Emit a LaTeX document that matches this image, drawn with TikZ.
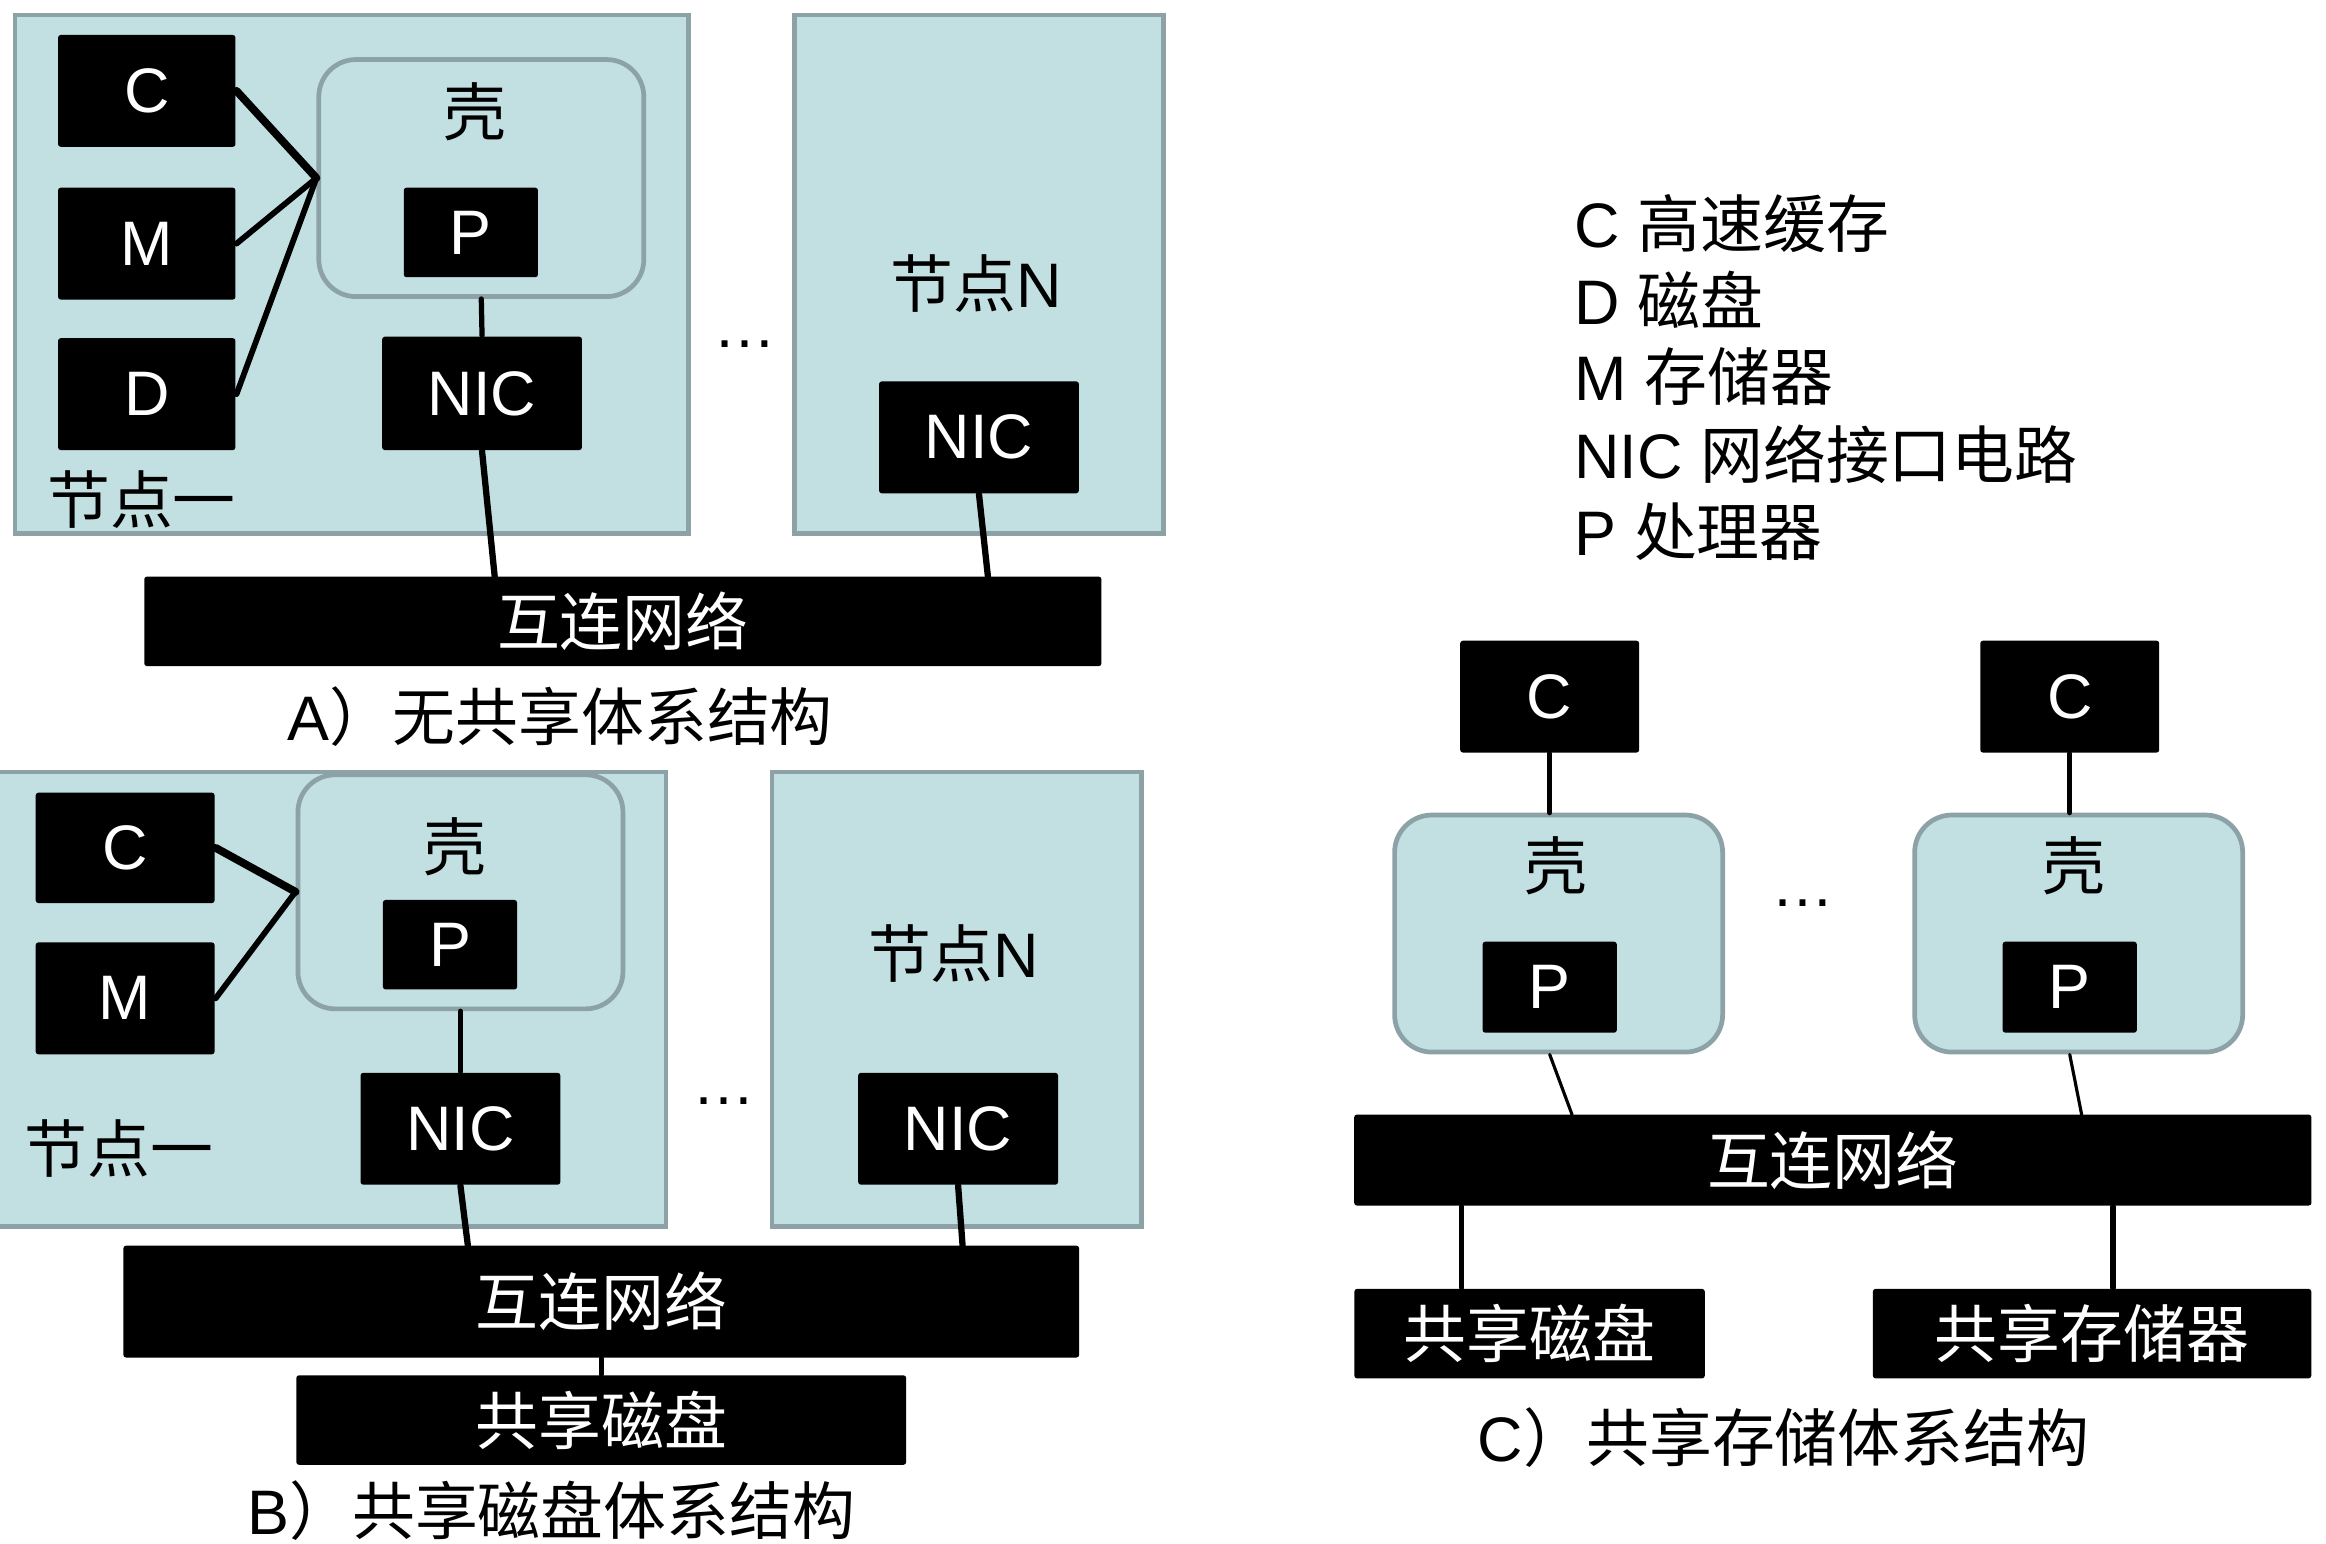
\documentclass[tikz,border=0pt]{standalone}
\usepackage{fontspec}
\setmainfont{Liberation Sans}
\newfontfamily\cjk{Noto Sans CJK SC}
\definecolor{nodefill}{RGB}{194,223,226}
\definecolor{nodeline}{RGB}{140,162,166}
\tikzset{
  nodebox/.style={draw=nodeline, fill=nodefill, line width=0.9pt},
  shell/.style={draw=nodeline, fill=nodefill, line width=0.9pt, rounded corners=0.25cm,
    minimum width=2.18cm, minimum height=1.59cm, inner sep=0pt},
  blk/.style 2 args={fill=black, text=white, rounded corners=0.5pt, inner sep=0pt,
    minimum width=#1cm, minimum height=#2cm},
  txt/.style={inner sep=0pt},
  link/.style={line width=#1, line cap=round},
  link/.default=1pt
}
\begin{document}
\begin{tikzpicture}[x=0.01cm, y=-0.01cm, font=\fontsize{12}{14.7}\selectfont]
  \useasboundingbox (0,0) rectangle (1561,1036);

  % A) shared nothing
  \draw[nodebox] (10,10) rectangle (462,358);
  \draw[nodebox] (533,10) rectangle (781,358);
  \node[blk={1.19}{0.75}] (cA) at (98.5,61) {C};
  \node[blk={1.19}{0.75}] (mA) at (98.5,163.5) {M};
  \node[blk={1.19}{0.75}] (dA) at (98.5,264.5) {D};
  \node[shell] (shA) at (323,119.5) {};
  \node[txt] (shAt) at (319,75) {\cjk 壳};
  \node[blk={0.9}{0.6}] (pA) at (316,156) {P};
  \node[blk={1.34}{0.76}] (nicA) at (323.5,264) {NIC};
  \node[txt] (oneA) at (95,335) {\cjk 节点一};
  \node[txt] (nA) at (655,190) {{\cjk 节点}N};
  \node[blk={1.34}{0.75}] (nicAN) at (657,293.5) {NIC};
  \node[txt] (dotsA) at (500,231) {\ldots};
  \node[blk={6.42}{0.6}] (netA) at (418,417) {\cjk 互连网络};
  \node[txt] (capA) at (376,481) {A{\cjk ）无共享体系结构}};
  \coordinate (jA1) at (332,387);
  \coordinate (jAN) at (663,387);

  \draw[link=1.5pt] (cA.east) -- (shA.west);
  \draw[link=1.1pt] (mA.east) -- (shA.west);
  \draw[link=1.1pt] (dA.east) -- (shA.west);
  \draw[link] (shA.south) -- (nicA.north);
  \draw[link=1.2pt] (nicA.south) -- (jA1);
  \draw[link=1.2pt] (nicAN.south) -- (jAN);

  % B) shared disk
  \draw[nodebox] (-5,518) rectangle (447,823);
  \draw[nodebox] (518,518) rectangle (766,823);
  \node[blk={1.2}{0.74}] (cB) at (84,569) {C};
  \node[blk={1.2}{0.75}] (mB) at (84,670) {M};
  \node[shell, minimum height=1.57cm] (shB) at (309,598.5) {};
  \node[txt] (shBt) at (305,568) {\cjk 壳};
  \node[blk={0.9}{0.6}] (pB) at (302,634) {P};
  \node[blk={1.34}{0.75}] (nicB) at (309,757.5) {NIC};
  \node[txt] (oneB) at (80,771) {\cjk 节点一};
  \node[txt] (nB) at (640,640) {{\cjk 节点}N};
  \node[blk={1.34}{0.75}] (nicBN) at (643,757.5) {NIC};
  \node[txt] (dotsB) at (486,739) {\ldots};
  \node[blk={6.41}{0.75}] (netB) at (403.5,873.5) {\cjk 互连网络};
  \node[blk={4.09}{0.6}] (diskB) at (403.5,953) {\cjk 共享磁盘};
  \node[txt] (capB) at (370,1014) {B{\cjk ）共享磁盘体系结构}};
  \coordinate (jB1) at (314,836);
  \coordinate (jBN) at (646,836);

  \draw[link=1.5pt] (cB.east) -- (shB.west);
  \draw[link=1.1pt] (mB.east) -- (shB.west);
  \draw[link] (shB.south) -- (nicB.north);
  \draw[link=1.2pt] (nicB.south) -- (jB1);
  \draw[link=1.2pt] (nicBN.south) -- (jBN);
  \draw[link] (netB.south) -- (diskB.north);

  % legend
  \node[txt, anchor=base west] (legC) at (1056,166) {C {\cjk 高速缓存}};
  \node[txt, anchor=base west] (legD) at (1056,218) {D {\cjk 磁盘}};
  \node[txt, anchor=base west] (legM) at (1056,269) {M {\cjk 存储器}};
  \node[txt, anchor=base west] (legNIC) at (1056,321) {NIC {\cjk 网络接口电路}};
  \node[txt, anchor=base west] (legP) at (1056,373) {P {\cjk 处理器}};

  % C) shared memory
  \node[blk={1.2}{0.75}] (cC1) at (1040,467.5) {C};
  \node[blk={1.2}{0.75}] (cC2) at (1389,467.5) {C};
  \node[shell, minimum width=2.2cm] (shC1) at (1046,626.5) {};
  \node[shell, minimum width=2.2cm] (shC2) at (1395,626.5) {};
  \node[txt] (shC1t) at (1044,581) {\cjk 壳};
  \node[txt] (shC2t) at (1392,581) {\cjk 壳};
  \node[blk={0.9}{0.61}] (pC1) at (1040,662.5) {P};
  \node[blk={0.9}{0.61}] (pC2) at (1389,662.5) {P};
  \node[txt] (dotsC) at (1210,606) {\ldots};
  \node[blk={6.42}{0.61}] (netC) at (1230,778.5) {\cjk 互连网络};
  \node[blk={2.35}{0.6}] (diskC) at (1026.5,895) {\cjk 共享磁盘};
  \node[blk={2.94}{0.6}] (memC) at (1404,895) {\cjk 共享存储器};
  \node[txt] (capC) at (1197,965) {C{\cjk ）共享存储体系结构}};
  \coordinate (jC1) at (1055,748);
  \coordinate (jC2) at (1397,748);

  \draw[link] (cC1.south) -- (cC1.south |- shC1.north);
  \draw[link] (cC2.south) -- (cC2.south |- shC2.north);
  \draw[link=0.6pt] (shC1.south -| pC1) -- (jC1);
  \draw[link=0.6pt] (shC2.south -| pC2) -- (jC2);
  \draw[link] (netC.south -| 981,0) -- (diskC.north -| 981,0);
  \draw[link] (netC.south -| 1418,0) -- (memC.north -| 1418,0);
\end{tikzpicture}
\end{document}
